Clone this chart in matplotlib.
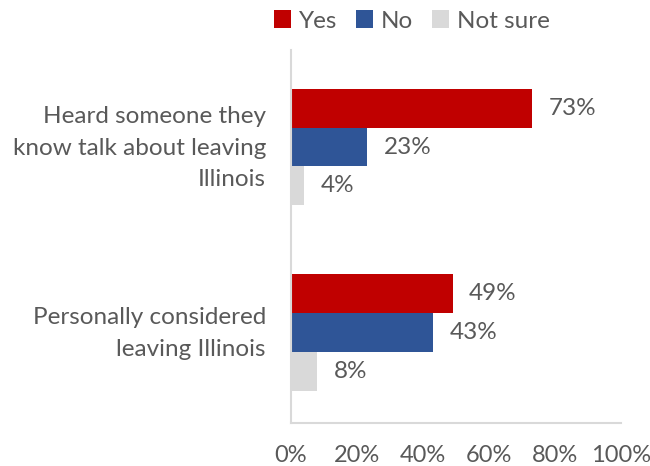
import matplotlib
matplotlib.use("Agg")
import matplotlib.pyplot as plt
import matplotlib.transforms as mtransforms
import numpy as np

categories = ["Heard someone they\nknow talk about leaving\nIllinois", "Personally considered\nleaving Illinois"]
series = ["Yes", "No", "Not sure"]
yes = [73, 49]
no = [23, 43]
not_sure = [4, 8]
xticks = [0, 20, 40, 60, 80, 100]
xtick_labels = ["0%", "20%", "40%", "60%", "80%", "100%"]

colors = ["#C00000", "#2F5597", "#D9D9D9"]
text_color = "#595959"
font = "Lato"

plt.rcParams['font.family'] = [font, 'DejaVu Sans']

fig = plt.figure(figsize=(6.5, 4.66), dpi=100)
ax = fig.add_axes([291/650, 1-423/466, (621-291)/650, (423-50)/466])

bh = 0.21
y = np.arange(len(categories))
offsets = [-bh, 0, bh]
for vals, off, c, name in zip([yes, no, not_sure], offsets, colors, series):
    bars = ax.barh(y + off, vals, height=bh, color=c, label=name)
    for b, v in zip(bars, vals):
        ax.text(b.get_width() + 5, b.get_y() + b.get_height()/2, f"{v}%",
                va="center", ha="left", fontsize=17.5, color=text_color)

ax.set_xlim(0, 100)
ax.set_ylim(1.488, -0.523)
ax.set_xticks(xticks)
ax.set_xticklabels(xtick_labels, fontsize=17, color=text_color)
ax.set_yticks(y)
ax.set_yticklabels(categories, fontsize=17.5, color=text_color, linespacing=1.6)
ax.tick_params(axis="both", length=0)
ax.tick_params(axis="x", pad=16)
ax.tick_params(axis="y", pad=18)
shift = mtransforms.ScaledTranslation(0, 6/100, fig.dpi_scale_trans)
for lbl in ax.get_yticklabels():
    lbl.set_transform(lbl.get_transform() + shift)
for s in ["top", "right"]:
    ax.spines[s].set_visible(False)
for s in ["left", "bottom"]:
    ax.spines[s].set_color("#D9D9D9")
    ax.spines[s].set_linewidth(1.5)

handles, labels = ax.get_legend_handles_labels()
leg = fig.legend(handles, labels, loc="center", bbox_to_anchor=(412/650, 1-21/466), ncol=3,
                 frameon=False, fontsize=17.5, handlelength=0.7, handleheight=0.7,
                 handletextpad=0.3, columnspacing=0.8)
for t in leg.get_texts():
    t.set_color(text_color)

fig.savefig("out.png", dpi=100)
